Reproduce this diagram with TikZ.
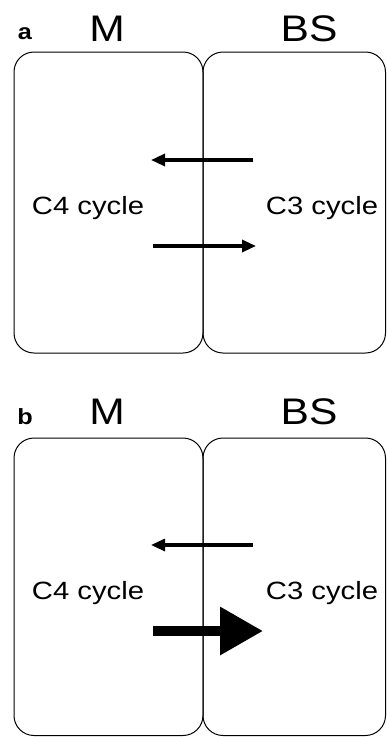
\documentclass[tikz,border=0pt]{standalone}
\usepackage{fontspec}
\setmainfont{Liberation Sans}
\usetikzlibrary{arrows.meta}
\begin{document}
\begin{tikzpicture}[x=1pt,y=-1pt,
  cell/.style={draw=black, line width=1pt, rounded corners=20pt, inner sep=0pt},
  lbl/.style={inner sep=0pt, font=\fontsize{25}{28}\selectfont},
  head/.style={inner sep=0pt, font=\fontsize{37}{40}\selectfont},
  panel/.style={inner sep=0pt, font=\fontsize{22}{24}\selectfont\bfseries},
  flux/.style={line width=3.2pt, -{Triangle[length=14pt,width=12pt]}},
  fluxthin/.style={line width=3.1pt, -{Triangle[length=14pt,width=12pt]}},
  fluxbig/.style={line width=9.6pt, -{Triangle[length=43pt,width=46pt]}}]
\useasboundingbox (0,0) rectangle (386,737);
% panel a
\node[cell, minimum width=189pt, minimum height=301pt] (Ma) at (108.5,202.5) {};
\node[cell, minimum width=182.5pt, minimum height=301pt] (BSa) at (294.25,202.5) {};
\node[panel] (la) at (25,34) {\scalebox{1.15}[1]{a}};
\node[head] (hMa) at (107,29) {\scalebox{1.15}[1]{M}};
\node[head] (hBSa) at (309,29) {\scalebox{1.15}[1]{BS}};
\node[lbl] (c4a) at (88,208) {\scalebox{1.17}[1]{C4 cycle}};
\node[lbl] (c3a) at (322,208) {\scalebox{1.17}[1]{C3 cycle}};
\coordinate (a1s) at (253,160);
\coordinate (a1e) at (151,160);
\coordinate (a2s) at (153,246);
\coordinate (a2e) at (256,246);
\draw[flux] (a1s) -- (a1e);
\draw[flux] (a2s) -- (a2e);
% panel b
\node[cell, minimum width=189pt, minimum height=297.5pt] (Mb) at (108.5,586.75) {};
\node[cell, minimum width=182.5pt, minimum height=297.5pt] (BSb) at (294.25,586.75) {};
\node[panel] (lb) at (25,417) {\scalebox{1.15}[1]{b}};
\node[head] (hMb) at (107,412) {\scalebox{1.15}[1]{M}};
\node[head] (hBSb) at (309,412) {\scalebox{1.15}[1]{BS}};
\node[lbl] (c4b) at (88,593) {\scalebox{1.17}[1]{C4 cycle}};
\node[lbl] (c3b) at (322,593) {\scalebox{1.17}[1]{C3 cycle}};
\coordinate (b1s) at (253,545);
\coordinate (b1e) at (151,545);
\coordinate (b2s) at (153,631);
\coordinate (b2e) at (263,631);
\draw[fluxthin] (b1s) -- (b1e);
\draw[fluxbig] (b2s) -- (b2e);
\end{tikzpicture}
\end{document}
